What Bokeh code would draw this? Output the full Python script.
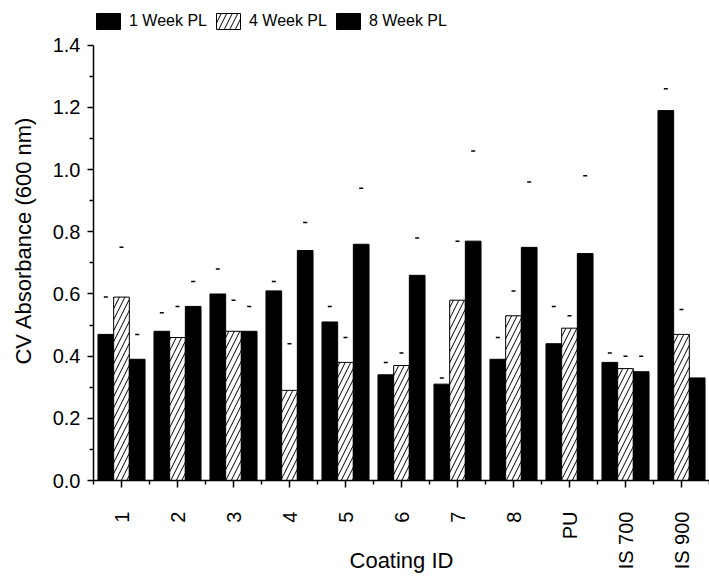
import numpy as np
from bokeh.plotting import figure
from bokeh.models import (ColumnDataSource, FixedTicker, Legend, LegendItem,
                          PrintfTickFormatter, Range1d)
from bokeh.transform import dodge
from bokeh.embed import file_html
from bokeh.resources import INLINE

coatings = ["1", "2", "3", "4", "5", "6", "7", "8", "PU", "IS 700", "IS 900"]
week1 = [0.47, 0.48, 0.60, 0.61, 0.51, 0.34, 0.31, 0.39, 0.44, 0.38, 1.19]
week4 = [0.59, 0.46, 0.48, 0.29, 0.38, 0.37, 0.58, 0.53, 0.49, 0.36, 0.47]
week8 = [0.39, 0.56, 0.48, 0.74, 0.76, 0.66, 0.77, 0.75, 0.73, 0.35, 0.33]
week1_err_top = [0.59, 0.54, 0.68, 0.64, 0.56, 0.38, 0.33, 0.46, 0.56, 0.41, 1.26]
week4_err_top = [0.75, 0.56, 0.58, 0.44, 0.46, 0.41, 0.77, 0.61, 0.53, 0.40, 0.55]
week8_err_top = [0.47, 0.64, 0.56, 0.83, 0.94, 0.78, 1.06, 0.96, 0.98, 0.40, float("nan")]
series_names = ["1 Week PL", "4 Week PL", "8 Week PL"]
y_ticks = [0.0, 0.2, 0.4, 0.6, 0.8, 1.0, 1.2, 1.4]

FONT = "Liberation Sans"
INK = "black"
pos = list(range(1, len(coatings) + 1))
src = ColumnDataSource(dict(x=pos, w1=week1, w4=week4, w8=week8,
                            e1=week1_err_top, e4=week4_err_top, e8=week8_err_top))

# frame runs to the top of the canvas so the legend can sit above the 1.4 tick
y_top = 1.4 * 482 / 437
p = figure(width=709, height=576, output_backend="svg", toolbar_location=None,
           x_range=Range1d(0.5, len(coatings) + 0.5), y_range=Range1d(0, y_top),
           min_border_left=93, min_border_right=0, min_border_top=0,
           min_border_bottom=94)
p.outline_line_color = None
p.grid.visible = False
p.background_fill_color = "white"

bw = 0.28
r1 = p.vbar(x=dodge("x", -bw, range=p.x_range), top="w1", width=bw, source=src,
            fill_color=INK, line_color=INK)
r4 = p.vbar(x=dodge("x", 0, range=p.x_range), top="w4", width=bw, source=src,
            fill_color="white", line_color=INK, line_width=1,
            hatch_pattern="/", hatch_color=INK, hatch_scale=11, hatch_weight=1)
r8 = p.vbar(x=dodge("x", bw, range=p.x_range), top="w8", width=bw, source=src,
            fill_color=INK, line_color=INK)

for col, off in (("e1", -bw), ("e4", 0), ("e8", bw)):
    p.scatter(x=dodge("x", off, range=p.x_range), y=col, source=src, marker="dash",
              size=4, line_color=INK, line_width=1.5)

# x axis
xa = p.xaxis[0]
xa.ticker = FixedTicker(ticks=pos, minor_ticks=[v + 0.5 for v in range(0, len(coatings) + 1)])
xa.major_label_overrides = {i: c for i, c in zip(pos, coatings)}
xa.major_label_orientation = np.pi / 2
xa.major_label_standoff = 24
xa.major_label_text_font = FONT
xa.major_label_text_font_size = "20px"
xa.major_label_text_color = INK
xa.axis_label = "Coating ID"
xa.axis_label_text_font = FONT
xa.axis_label_text_font_size = "22px"
xa.axis_label_text_font_style = "normal"
xa.axis_label_text_color = INK
xa.axis_label_standoff = -24
xa.major_tick_out = 7
xa.major_tick_in = 0
xa.minor_tick_out = 4
xa.minor_tick_in = 0
xa.axis_line_width = 1.5
xa.major_tick_line_width = 1.5
xa.minor_tick_line_width = 1.5
xa.axis_line_color = INK
xa.major_tick_line_color = INK
xa.minor_tick_line_color = INK

ya = p.yaxis[0]
ya.bounds = (0, 1.4)
ya.ticker = FixedTicker(ticks=y_ticks, minor_ticks=[t + 0.1 for t in y_ticks[:-1]])
ya.formatter = PrintfTickFormatter(format="%.1f")
ya.major_label_text_font = FONT
ya.major_label_text_font_size = "20px"
ya.major_label_text_color = INK
ya.major_label_standoff = 7
ya.axis_label = "CV Absorbance (600 nm)"
ya.axis_label_text_font = FONT
ya.axis_label_text_font_size = "22px"
ya.axis_label_text_font_style = "normal"
ya.axis_label_text_color = INK
ya.axis_label_standoff = 14
ya.major_tick_out = 6
ya.major_tick_in = 0
ya.minor_tick_out = 4
ya.minor_tick_in = 0
ya.axis_line_width = 1.5
ya.major_tick_line_width = 1.5
ya.minor_tick_line_width = 1.5
ya.axis_line_color = INK
ya.major_tick_line_color = INK
ya.minor_tick_line_color = INK

legend = Legend(items=[LegendItem(label=series_names[0], renderers=[r1]),
                       LegendItem(label=series_names[1], renderers=[r4]),
                       LegendItem(label=series_names[2], renderers=[r8])],
                orientation="horizontal", location=(0, 449),
                glyph_width=30, glyph_height=20, label_standoff=6, spacing=6,
                padding=0, margin=0, border_line_color=None,
                background_fill_alpha=0,
                label_text_font=FONT, label_text_font_size="16px",
                label_text_color=INK, label_height=20)
p.add_layout(legend, "center")

open("out.html", "w").write(file_html(p, INLINE))
